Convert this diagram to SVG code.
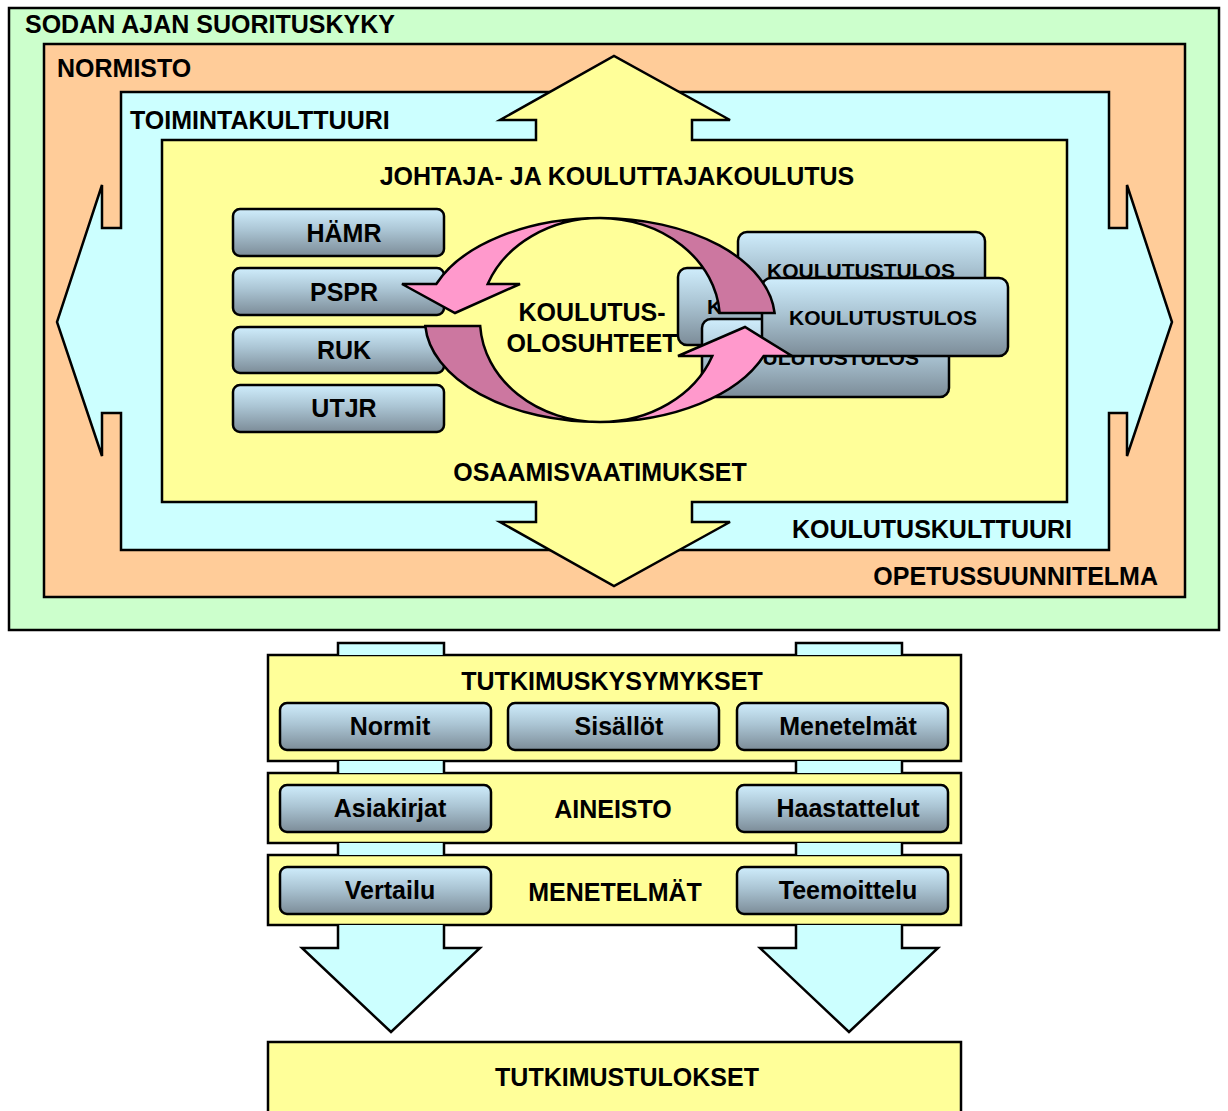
<svg xmlns="http://www.w3.org/2000/svg" width="1228" height="1111" viewBox="0 0 1228 1111">
<defs>
<linearGradient id="btn" x1="0" y1="0" x2="0" y2="1">
<stop offset="0" stop-color="#CFEDFC"/>
<stop offset="0.45" stop-color="#ABC5D4"/>
<stop offset="1" stop-color="#7C8C98"/>
</linearGradient>
<style>
.s{stroke:#000;stroke-width:2.5;stroke-linejoin:miter}
.t{font-family:"Liberation Sans",Arial,sans-serif;font-weight:bold;font-size:25px;fill:#000}
.tc{text-anchor:middle}
.tr{text-anchor:end}
.k{font-size:21px}
.box{fill:url(#btn);stroke:#000;stroke-width:2.5}
.y{fill:#FFFF99}
.c{fill:#CCFFFF}
.lp{fill:#FF99CC}
.dp{fill:#CC77A0}
</style>
</defs>
<rect width="1228" height="1111" fill="#fff"/>

<g id="sodan-ajan-suorituskyky">
<rect x="9" y="8" width="1210" height="622" fill="#CCFFCC" class="s"/>
<text x="25" y="33" class="t">SODAN AJAN SUORITUSKYKY</text>
</g>

<g id="normisto">
<rect x="44" y="44" width="1141" height="553" fill="#FFCC99" class="s"/>
<text x="57" y="77" class="t">NORMISTO</text>
<text x="1158" y="585" class="t tr">OPETUSSUUNNITELMA</text>
</g>

<g id="toimintakulttuuri">
<path class="c s" d="M121,92 H1109 V228 H1127 V185 L1172,322 L1127,456 V413 H1109 V550 H121 V413 H102 V456 L57,322 L102,185 V228 H121 Z"/>
<text x="130" y="129" class="t">TOIMINTAKULTTUURI</text>
<text x="1072" y="538" class="t tr">KOULUTUSKULTTUURI</text>
</g>

<g id="johtaja-ja-kouluttajakoulutus">
<path class="y s" d="M162,140 H536 V120 H500 L614,56 L730,120 H692 V140 H1067 V502 H692 V522 H730 L614,586 L500,522 H536 V502 H162 Z"/>
<text x="617" y="185" class="t tc">JOHTAJA- JA KOULUTTAJAKOULUTUS</text>
<text x="600" y="481" class="t tc">OSAAMISVAATIMUKSET</text>
</g>

<g id="hamr"><rect x="233" y="209" width="211" height="47" rx="7" class="box"/><text x="344" y="242" class="t tc">HÄMR</text></g>
<g id="pspr"><rect x="233" y="268" width="211" height="47" rx="7" class="box"/><text x="344" y="301" class="t tc">PSPR</text></g>
<g id="ruk"><rect x="233" y="327" width="211" height="46" rx="7" class="box"/><text x="344" y="359" class="t tc">RUK</text></g>
<g id="utjr"><rect x="233" y="385" width="211" height="47" rx="7" class="box"/><text x="344" y="417" class="t tc">UTJR</text></g>

<g id="koulutustulos-2"><rect x="678" y="268" width="247" height="77" rx="9" class="box"/><text x="801" y="314" class="t tc k">KOULUTUSTULOS</text></g>
<g id="koulutustulos-1"><rect x="738" y="232" width="247" height="77" rx="9" class="box"/><text x="861" y="278" class="t tc k">KOULUTUSTULOS</text></g>
<g id="koulutustulos-3"><rect x="702" y="319" width="247" height="78" rx="9" class="box"/><text x="825" y="365" class="t tc k">KOULUTUSTULOS</text></g>
<g id="koulutustulos-4"><rect x="762" y="278" width="246" height="78" rx="9" class="box"/><text x="883" y="325" class="t tc k">KOULUTUSTULOS</text></g>

<g id="koulutusolosuhteet">
<text x="592" y="321" class="t tc">KOULUTUS-</text>
<text x="592" y="352" class="t tc">OLOSUHTEET</text>
</g>

<g id="tutkimuskysymykset">
<rect x="268" y="655" width="693" height="106" class="y s"/>
<text x="612" y="690" class="t tc">TUTKIMUSKYSYMYKSET</text>
</g>
<g id="normit"><rect x="280" y="703" width="211" height="47" rx="7" class="box"/><text x="390" y="735" class="t tc">Normit</text></g>
<g id="sisallot"><rect x="508" y="703" width="211" height="47" rx="7" class="box"/><text x="619" y="735" class="t tc">Sisällöt</text></g>
<g id="menetelmat-q"><rect x="737" y="703" width="211" height="47" rx="7" class="box"/><text x="848" y="735" class="t tc">Menetelmät</text></g>

<g id="aineisto">
<rect x="268" y="773" width="693" height="70" class="y s"/>
<text x="613" y="818" class="t tc">AINEISTO</text>
</g>
<g id="asiakirjat"><rect x="280" y="785" width="211" height="47" rx="7" class="box"/><text x="390" y="817" class="t tc">Asiakirjat</text></g>
<g id="haastattelut"><rect x="737" y="785" width="211" height="47" rx="7" class="box"/><text x="848" y="817" class="t tc">Haastattelut</text></g>

<g id="menetelmat">
<rect x="268" y="855" width="693" height="70" class="y s"/>
<text x="615" y="901" class="t tc">MENETELMÄT</text>
</g>
<g id="vertailu"><rect x="280" y="867" width="211" height="47" rx="7" class="box"/><text x="390" y="899" class="t tc">Vertailu</text></g>
<g id="teemoittelu"><rect x="737" y="867" width="211" height="47" rx="7" class="box"/><text x="848" y="899" class="t tc">Teemoittelu</text></g>

<g id="tutkimustulokset">
<rect x="268" y="1042" width="693" height="80" class="y s"/>
<text x="627" y="1086" class="t tc">TUTKIMUSTULOKSET</text>
</g>

<g id="connectors">
<path class="dp s" d="M600,218 A175,102 0 0 1 774.6,313 L719.7,313 A120,102 0 0 0 600,218 Z"/>
<path class="lp s" d="M600,218 A175,102 0 0 0 436.3,284 L402,284 L455,313 L520,284 L487.7,284 A120,102 0 0 1 600,218 Z"/>
<path class="dp s" d="M425.3,326 A175,102 0 0 0 600,422 A120,102 0 0 1 480.2,326 Z"/>
<path class="lp s" d="M600,422 A175,102 0 0 0 763.7,356 L792,356 L745,327 L678,356 L712.3,356 A120,102 0 0 1 600,422 Z"/>

<path class="c s" d="M338,655 V643 H444 V655"/>
<rect x="338" y="761" width="106" height="12" class="c"/>
<path class="s" d="M338,761 V773 M444,761 V773"/>
<rect x="338" y="843" width="106" height="12" class="c"/>
<path class="s" d="M338,843 V855 M444,843 V855"/>
<path class="c s" d="M338,925 V948 H302 L391,1032 L480,948 H444 V925"/>

<path class="c s" d="M796,655 V643 H902 V655"/>
<rect x="796" y="761" width="106" height="12" class="c"/>
<path class="s" d="M796,761 V773 M902,761 V773"/>
<rect x="796" y="843" width="106" height="12" class="c"/>
<path class="s" d="M796,843 V855 M902,843 V855"/>
<path class="c s" d="M796,925 V948 H760 L849,1032 L938,948 H902 V925"/>
</g>
</svg>
